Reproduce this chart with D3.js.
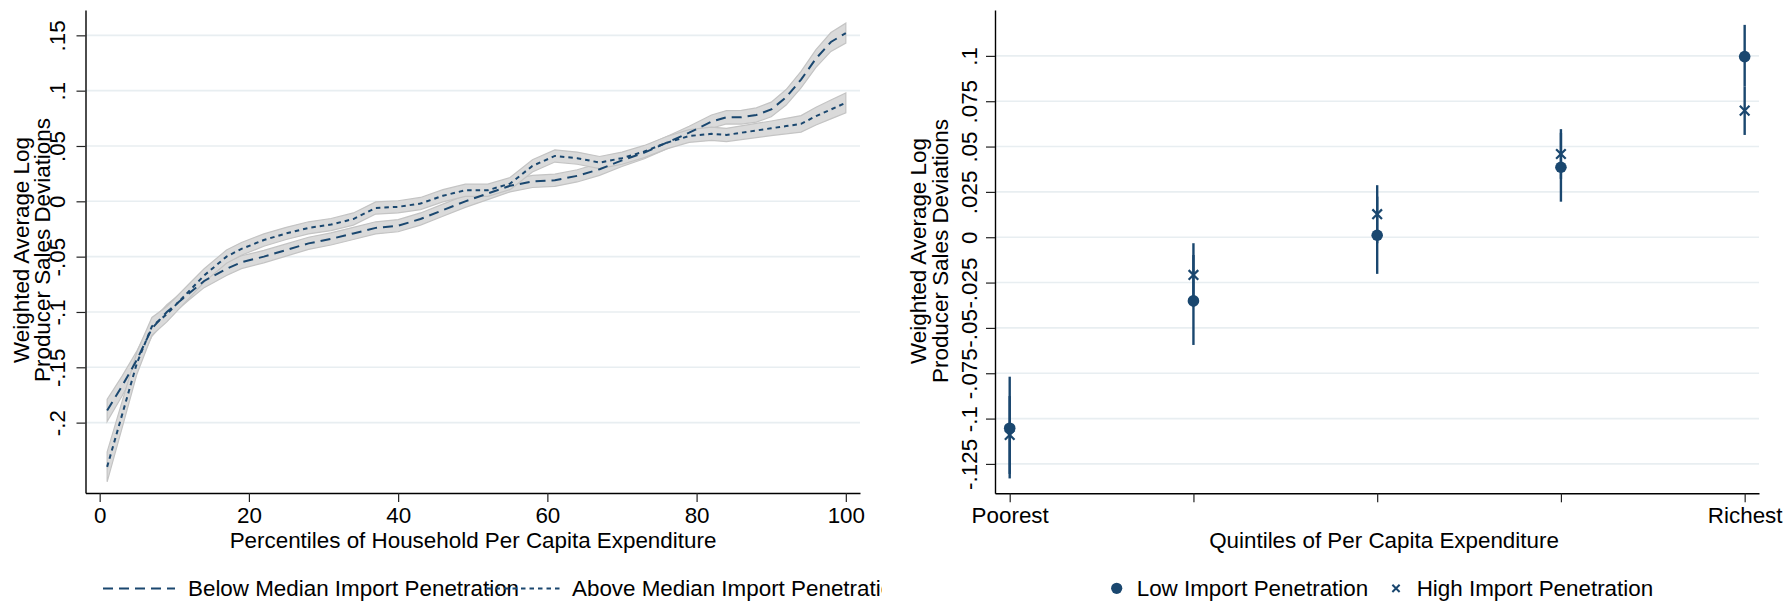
<!DOCTYPE html>
<html>
<head>
<meta charset="utf-8">
<title>Producer sales deviations</title>
<style>
  body { margin: 0; background: #fff; }
  svg text { font-family: "Liberation Sans", Arial, Helvetica, sans-serif; font-size: 22.4px; fill: #000; }
</style>
</head>
<body>
<div id="vis"></div>
<script src="https://d3js.org/d3.v7.min.js"></script>
<script>
// ---- left panel: local polynomial fits by percentile ----
var pct = [1,3,5,7,9,12,14,17,19,22,25,28,31,34,37,40,43,46,49,52,55,58,61,64,67,70,73,76,79,82,84,86,88,90,92,94,96,98,100];
var belowFit = [-0.189,-0.167,-0.143,-0.115,-0.100,-0.083,-0.072,-0.061,-0.055,-0.050,-0.044,-0.038,-0.034,-0.029,-0.024,-0.022,-0.016,-0.008,0.000,0.007,0.014,0.018,0.019,0.023,0.029,0.037,0.044,0.053,0.062,0.072,0.076,0.076,0.078,0.083,0.094,0.110,0.129,0.144,0.152];
var aboveFit = [-0.240,-0.193,-0.146,-0.113,-0.102,-0.081,-0.067,-0.050,-0.043,-0.035,-0.029,-0.024,-0.021,-0.016,-0.006,-0.005,-0.002,0.005,0.010,0.010,0.016,0.032,0.041,0.039,0.035,0.039,0.045,0.053,0.059,0.061,0.060,0.062,0.064,0.066,0.068,0.070,0.077,0.083,0.089];
// half width of the 95% band
var belowCI = [0.010,0.009,0.008,0.007,0.0065,0.006,0.006,0.006,0.0058,0.0056,0.0055,0.0055,0.0055,0.0055,0.0055,0.0055,0.0055,0.0055,0.0055,0.0055,0.0055,0.0055,0.0055,0.0055,0.0055,0.0055,0.0055,0.0056,0.0058,0.006,0.006,0.0062,0.0064,0.0066,0.007,0.0075,0.008,0.0085,0.009];
var aboveCI = [0.0135,0.012,0.010,0.008,0.007,0.0065,0.006,0.006,0.0058,0.0056,0.0055,0.0055,0.0055,0.0055,0.0055,0.0055,0.0055,0.0055,0.0055,0.0055,0.0055,0.0055,0.0055,0.0055,0.0055,0.0055,0.0055,0.0056,0.0058,0.006,0.006,0.0062,0.0064,0.0066,0.007,0.0075,0.008,0.0085,0.009];
var leftYTicks = [-0.2,-0.15,-0.1,-0.05,0,0.05,0.1,0.15];
var leftXTicks = [0,20,40,60,80,100];

// ---- right panel: quintile estimates ----
var quintiles = [1,2,3,4,5];
var quintileLabels = ["Poorest","","","","Richest"];
var lowEst  = [-0.1053,-0.0351,0.0011,0.0386,0.0996];
var lowLo   = [-0.1330,-0.0594,-0.0202,0.0196,0.0830];
var lowHi   = [-0.0769,-0.0098,0.0224,0.0576,0.1171];
var highEst = [-0.1090,-0.0208,0.0127,0.0459,0.0698];
var highLo  = [-0.1305,-0.0383,-0.0033,0.0322,0.0564];
var highHi  = [-0.0876,-0.0033,0.0287,0.0596,0.0830];
var rightYTicks = [-0.125,-0.1,-0.075,-0.05,-0.025,0,0.025,0.05,0.075,0.1];

var navy = "#1a476f", grid = "#e8eef1";

var svg = d3.select("#vis").append("svg")
    .attr("width", 1788).attr("height", 603);
svg.append("rect").attr("width", 1788).attr("height", 603).attr("fill", "#fff");

function stata(v) {
  var s = String(+v.toFixed(3));
  return s.replace("0.", ".");
}
function label(g, x, y, str, anchor, rot) {
  return g.append("text")
    .attr("transform", "translate(" + x + "," + y + ")" + (rot ? " rotate(-90)" : ""))
    .attr("text-anchor", anchor || "start")
    .text(str);
}
function styleAxis(g) {
  g.select(".domain").attr("stroke", "#000").attr("stroke-width", 1.4);
  g.selectAll(".tick line").attr("stroke", "#222").attr("stroke-width", 1.2);
  g.selectAll("text").attr("fill", "#000").style("font-size", "22.4px");
}

// =============== left panel ===============
var xL = d3.scaleLinear().domain([-1.9, 101.9]).range([85.5, 860]);
var yL = d3.scaleLinear().domain([-0.2636, 0.1729]).range([493, 10]);
var left = svg.append("g");

left.selectAll(".grid").data(leftYTicks).enter().append("line")
  .attr("x1", xL.range()[0]).attr("x2", xL.range()[1])
  .attr("y1", function(d) { return yL(d); }).attr("y2", function(d) { return yL(d); })
  .attr("stroke", grid).attr("stroke-width", 1.6);

var series = [
  {name: "Below Median Import Penetration", fit: belowFit, ci: belowCI, dash: "10,6"},
  {name: "Above Median Import Penetration", fit: aboveFit, ci: aboveCI, dash: "4.5,4"}
];
series.forEach(function(s) {
  s.pts = pct.map(function(p, i) { return {p: p, v: s.fit[i], h: s.ci[i]}; });
});

var band = d3.area()
  .x(function(d) { return xL(d.p); })
  .y0(function(d) { return yL(d.v - d.h); })
  .y1(function(d) { return yL(d.v + d.h); });
var fitLine = d3.line()
  .x(function(d) { return xL(d.p); })
  .y(function(d) { return yL(d.v); });

series.forEach(function(s) {
  left.append("path").attr("d", band(s.pts))
    .attr("fill", "#dadada").attr("stroke", "#c4c4c4").attr("stroke-width", 1.2);
});
series.forEach(function(s) {
  left.append("path").attr("d", fitLine(s.pts))
    .attr("fill", "none").attr("stroke", navy).attr("stroke-width", 2)
    .attr("stroke-dasharray", s.dash);
});

var axL = left.append("g").attr("transform", "translate(85.5,0)")
  .call(d3.axisLeft(yL).tickValues(leftYTicks).tickSize(9).tickSizeOuter(0).tickFormat(stata));
axL.selectAll("text").attr("x", null).attr("dy", null)
  .attr("transform", "translate(-20.5,0) rotate(-90)")
  .attr("text-anchor", "middle");
styleAxis(axL);

var axBL = left.append("g").attr("transform", "translate(0,493)")
  .call(d3.axisBottom(xL).tickValues(leftXTicks).tickSize(9).tickSizeOuter(0));
axBL.selectAll("text").attr("y", null).attr("dy", null)
  .attr("transform", "translate(0,30)")
  .attr("text-anchor", "middle");
styleAxis(axBL);

label(left, 29, 250, "Weighted Average Log", "middle", true);
label(left, 50, 250, "Producer Sales Deviations", "middle", true);
label(left, 473, 548, "Percentiles of Household Per Capita Expenditure", "middle");

// legend, clipped at the panel edge like the original
svg.append("clipPath").attr("id", "clipL").append("rect")
  .attr("x", 0).attr("y", 560).attr("width", 882).attr("height", 43);
var legL = left.append("g").attr("clip-path", "url(#clipL)");
var legPos = [{x0: 103, x1: 175, tx: 188}, {x0: 487, x1: 560, tx: 572}];
series.forEach(function(s, i) {
  label(legL, legPos[i].tx, 596, s.name);
});
series.forEach(function(s, i) {
  legL.append("line")
    .attr("x1", legPos[i].x0).attr("x2", legPos[i].x1)
    .attr("y1", 588.5).attr("y2", 588.5)
    .attr("stroke", navy).attr("stroke-width", 2).attr("stroke-dasharray", s.dash);
});

// =============== right panel ===============
var xR = d3.scaleLinear().domain([0.92, 5.078]).range([995, 1759]);
var yR = d3.scaleLinear().domain([-0.1412, 0.1253]).range([493.3, 10]);
var right = svg.append("g");

right.selectAll(".grid").data(rightYTicks).enter().append("line")
  .attr("x1", xR.range()[0]).attr("x2", xR.range()[1])
  .attr("y1", function(d) { return yR(d); }).attr("y2", function(d) { return yR(d); })
  .attr("stroke", grid).attr("stroke-width", 1.6);

var low = quintiles.map(function(q, i) { return {q: q, est: lowEst[i], lo: lowLo[i], hi: lowHi[i]}; });
var high = quintiles.map(function(q, i) { return {q: q, est: highEst[i], lo: highLo[i], hi: highHi[i]}; });

[low, high].forEach(function(set) {
  right.selectAll(null).data(set).enter().append("line")
    .attr("x1", function(d) { return xR(d.q); }).attr("x2", function(d) { return xR(d.q); })
    .attr("y1", function(d) { return yR(d.lo); }).attr("y2", function(d) { return yR(d.hi); })
    .attr("stroke", navy).attr("stroke-width", 2.4);
});

right.selectAll(".low").data(low).enter().append("circle")
  .attr("cx", function(d) { return xR(d.q); })
  .attr("cy", function(d) { return yR(d.est); })
  .attr("r", 5.8).attr("fill", navy);

var cross = d3.symbol().type(d3.symbolX).size(62);
right.selectAll(".high").data(high).enter().append("path")
  .attr("d", cross)
  .attr("transform", function(d) { return "translate(" + xR(d.q) + "," + yR(d.est) + ")"; })
  .attr("fill", "none").attr("stroke", navy).attr("stroke-width", 2.2);

var axR = right.append("g").attr("transform", "translate(995,0)")
  .call(d3.axisLeft(yR).tickValues(rightYTicks).tickSize(9).tickSizeOuter(0).tickFormat(stata));
axR.selectAll("text").attr("x", null).attr("dy", null)
  .attr("transform", "translate(-18.5,0) rotate(-90)")
  .attr("text-anchor", "middle");
styleAxis(axR);

var axBR = right.append("g").attr("transform", "translate(0,493.3)")
  .call(d3.axisBottom(xR).tickValues(quintiles).tickSize(9).tickSizeOuter(0)
    .tickFormat(function(d, i) { return quintileLabels[i]; }));
axBR.selectAll("text").attr("y", null).attr("dy", null)
  .attr("transform", "translate(0,29.7)")
  .attr("text-anchor", "middle");
styleAxis(axBR);

label(right, 925.5, 251, "Weighted Average Log", "middle", true);
label(right, 948, 251, "Producer Sales Deviations", "middle", true);
label(right, 1384, 548, "Quintiles of Per Capita Expenditure", "middle");

// legend
right.append("circle").attr("cx", 1116.7).attr("cy", 588.3).attr("r", 5.6).attr("fill", navy);
label(right, 1136.7, 596, "Low Import Penetration");
right.append("path").attr("d", d3.symbol().type(d3.symbolX).size(36))
  .attr("transform", "translate(1396,588.3)")
  .attr("fill", "none").attr("stroke", navy).attr("stroke-width", 2);
label(right, 1416.7, 596, "High Import Penetration");
</script>
</body>
</html>
